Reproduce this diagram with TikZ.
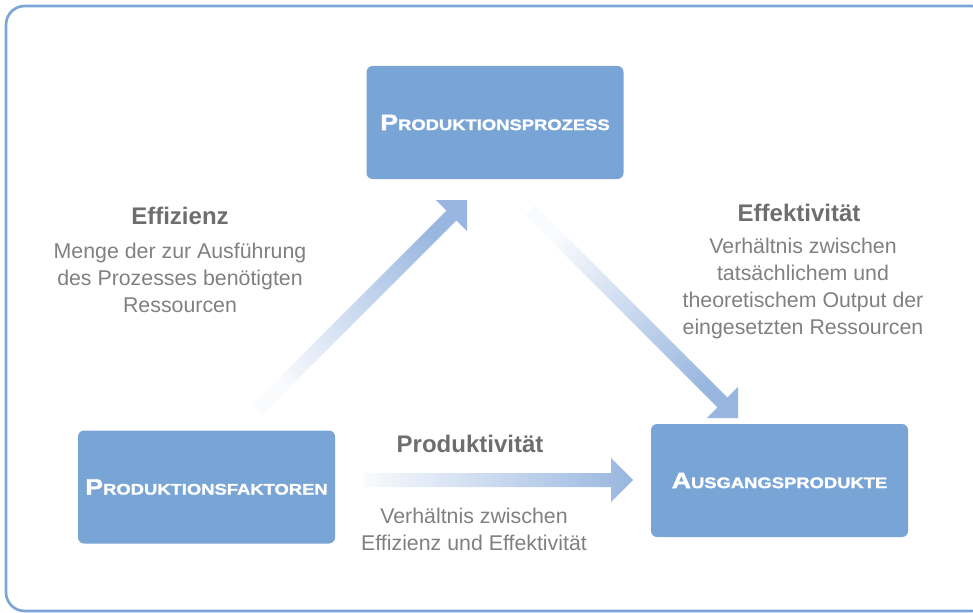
\documentclass[tikz,border=0pt]{standalone}
\usepackage{fontspec}
\setmainfont{Liberation Sans}
\newfontfamily\boxfont{Liberation Sans}[BoldFeatures={FakeStretch=1.2, FakeBold=1.6}]
\usetikzlibrary{positioning, calc}
\definecolor{boxblue}{HTML}{79A5D6}
\definecolor{frameblue}{HTML}{7BA5D7}
\definecolor{arrowblue}{HTML}{98B6DF}
\definecolor{titlegray}{HTML}{6D6E70}
\definecolor{textgray}{HTML}{808080}

% fake small caps for the stage boxes
\newcommand{\stagename}[2]{{\fontsize{16.7}{20}\selectfont #1}{\fontsize{11.5}{14}\selectfont #2}}
% shaded block arrow: start, tip, shading angle
\newcommand{\flowarrow}[3]{%
  \path[flowFill, shading angle=#3] let \p1=($(#2)-(#1)$), \n1={veclen(\x1,\y1)}, \n2={atan2(\y1,\x1)} in
    ($(#1)+(\n2+90:5.25pt)$) -- ($(#1)+(\n2:\n1-16.5pt)+(\n2+90:5.25pt)$)
    -- ($(#1)+(\n2:\n1-16.5pt)+(\n2+90:16.5pt)$) -- (#2)
    -- ($(#1)+(\n2:\n1-16.5pt)+(\n2-90:16.5pt)$) -- ($(#1)+(\n2:\n1-16.5pt)+(\n2-90:5.25pt)$)
    -- ($(#1)+(\n2-90:5.25pt)$) -- cycle;}

\begin{document}
\begin{tikzpicture}[x=0.75pt, y=-0.75pt]
\tikzstyle{stageBox} = [rectangle, rounded corners=4.5pt, minimum width=192.75pt, minimum height=84.75pt, fill=boxblue, text=white, font=\boxfont\bfseries, inner sep=0pt]
\tikzstyle{measureTitle} = [font=\fontsize{18}{22}\selectfont\bfseries, text=titlegray]
\tikzstyle{measureText} = [font=\fontsize{16}{20.25}\selectfont, text=textgray, align=center, inner sep=0pt]
\tikzstyle{flowFill} = [left color=arrowblue!6, right color=arrowblue]

\useasboundingbox (0,0) rectangle (973,613);
\draw[frameblue, line width=2pt, rounded corners=14pt] (6,6) rectangle (990,611);

\node (prozess) [stageBox] at (495,122.5) {\stagename{P}{RODUKTIONSPROZESS}};
\node (faktoren) [stageBox] at (206.5,487) {\stagename{P}{RODUKTIONSFAKTOREN}};
\node (ausgang) [stageBox] at (779.5,480.5) {\stagename{A}{USGANGSPRODUKTE}};

\node (effizienz) [measureTitle] at (180,215.5) {Effizienz};
\node (effizienzText) [measureText, below=10pt of effizienz] {Menge der zur Ausführung\\des Prozesses benötigten\\Ressourcen};
\node (effektivitaet) [measureTitle] at (799,212.5) {Effektivität};
\node (effektivitaetText) [measureText, below=8.9pt of effektivitaet, xshift=3pt] {Verhältnis zwischen\\tatsächlichem und\\theoretischem Output der\\eingesetzten Ressourcen};
\node (produktivitaet) [measureTitle] at (470,443.5) {Produktivität};
\node (produktivitaetText) [measureText, below=37.7pt of produktivitaet, xshift=3pt] {Verhältnis zwischen\\Effizienz und Effektivität};

\coordinate (effizienzStart) at (257,410);
\coordinate (effizienzEnd) at (467,200);
\coordinate (effektivitaetStart) at (530,210);
\coordinate (effektivitaetEnd) at (738,418);
\coordinate (produktivitaetStart) at (363,480);
\coordinate (produktivitaetEnd) at (633,480);

\flowarrow{effizienzStart}{effizienzEnd}{135}
\flowarrow{effektivitaetStart}{effektivitaetEnd}{45}
\flowarrow{produktivitaetStart}{produktivitaetEnd}{90}

\end{tikzpicture}
\end{document}
